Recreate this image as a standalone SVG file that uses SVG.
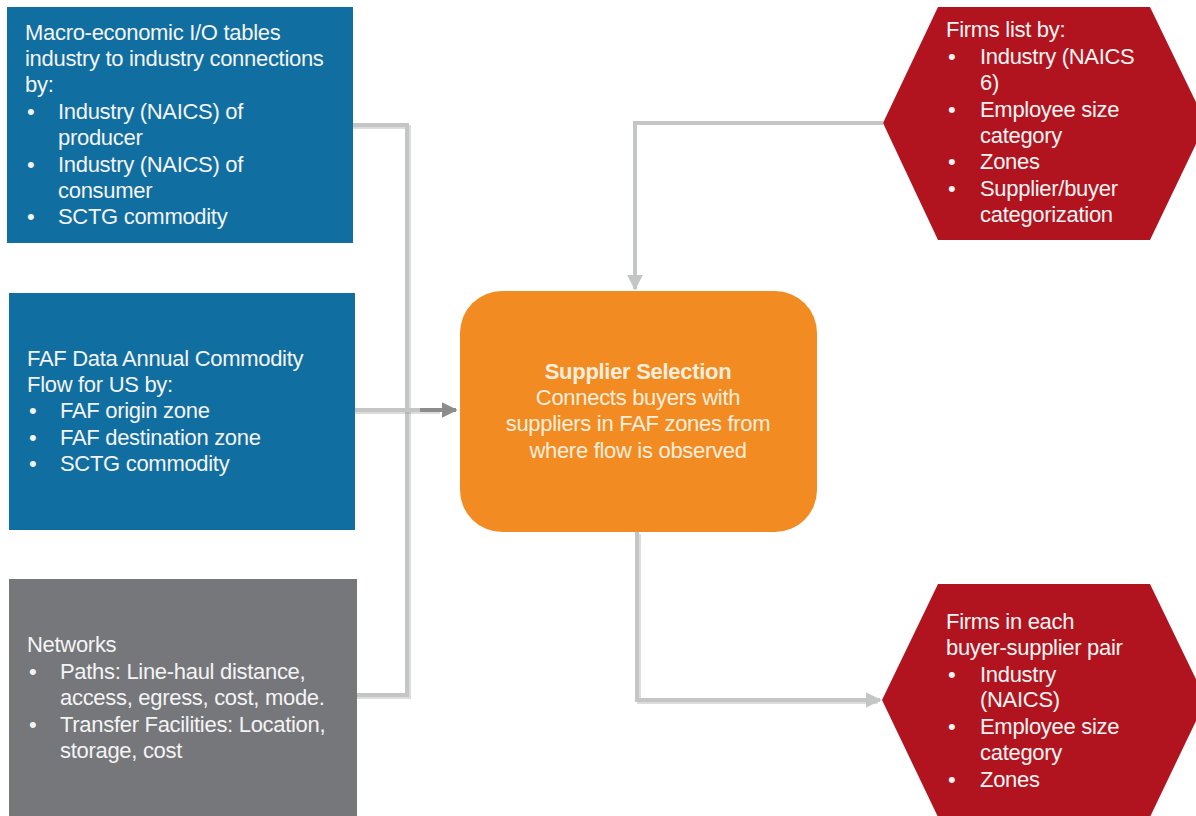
<svg xmlns="http://www.w3.org/2000/svg" width="1196" height="816" viewBox="0 0 1196 816">
<defs>
<style>
.t{font-family:"Liberation Sans",Arial,sans-serif;font-size:22px;fill:#f4f4f4;letter-spacing:-0.3px}
.c{font-family:"Liberation Sans",Arial,sans-serif;font-size:22px;fill:#fbeedd;text-anchor:middle;letter-spacing:-0.3px}
.b{font-weight:bold}
.ln{fill:none;stroke:#c4c6c6;stroke-width:4}
.sh{fill:none;stroke:#9a9a9a;stroke-width:4;opacity:0.35}
</style>
<marker id="ah" viewBox="0 0 10 10" refX="9" refY="5" markerWidth="4" markerHeight="4" orient="auto" markerUnits="strokeWidth">
<path d="M0,0 L10,5 L0,10 z" fill="#c4c6c6"/>
</marker>
<marker id="ahd" viewBox="0 0 10 10" refX="9" refY="5" markerWidth="4" markerHeight="4" orient="auto" markerUnits="strokeWidth">
<path d="M0,0 L10,5 L0,10 z" fill="#8c8c8c"/>
</marker>
</defs>
<rect width="1196" height="816" fill="#ffffff"/>
<g id="connectors">
<path class="sh" d="M353,127 H409 V697 H357"/>
<path class="ln" d="M353,125 H407 V695 H357"/>
<path class="sh" d="M355,412 H440"/>
<path class="ln" d="M355,410 H420"/>
<path d="M420,410 H456" fill="none" stroke="#8c8c8c" stroke-width="4" marker-end="url(#ahd)"/>
<path class="ln" d="M883,123 H635 V289" marker-end="url(#ah)"/>
<path class="sh" d="M639,534 V702 H878"/>
<path class="ln" d="M637,532 V700 H880" marker-end="url(#ah)"/>
</g>
<g id="io-tables">
<rect x="7" y="7" width="346" height="236" fill="#106ea1"/>
<text class="t" x="25" y="40">Macro-economic I/O tables</text>
<text class="t" x="25" y="66">industry to industry connections</text>
<text class="t" x="25" y="92">by:</text>
<text class="t" x="27" y="119">•</text><text class="t" x="58" y="119">Industry (NAICS) of</text>
<text class="t" x="58" y="145">producer</text>
<text class="t" x="27" y="172">•</text><text class="t" x="58" y="172">Industry (NAICS) of</text>
<text class="t" x="58" y="198">consumer</text>
<text class="t" x="27" y="224">•</text><text class="t" x="58" y="224">SCTG commodity</text>
</g>
<g id="faf-data">
<rect x="9" y="293" width="346" height="237" fill="#106ea1"/>
<text class="t" x="27" y="366">FAF Data Annual Commodity</text>
<text class="t" x="27" y="392">Flow for US by:</text>
<text class="t" x="29" y="418">•</text><text class="t" x="60" y="418">FAF origin zone</text>
<text class="t" x="29" y="445">•</text><text class="t" x="60" y="445">FAF destination zone</text>
<text class="t" x="29" y="471">•</text><text class="t" x="60" y="471">SCTG commodity</text>
</g>
<g id="networks">
<rect x="9" y="579" width="348" height="240" fill="#76777b"/>
<text class="t" x="27" y="652">Networks</text>
<text class="t" x="29" y="679">•</text><text class="t" x="60" y="679">Paths: Line-haul distance,</text>
<text class="t" x="60" y="705">access, egress, cost, mode.</text>
<text class="t" x="29" y="732">•</text><text class="t" x="60" y="732">Transfer Facilities: Location,</text>
<text class="t" x="60" y="758">storage, cost</text>
</g>
<g id="supplier-selection">
<rect x="460" y="291" width="357" height="241" rx="42" fill="#f28b22"/>
<text class="c b" x="638" y="379">Supplier Selection</text>
<text class="c" x="638" y="405">Connects buyers with</text>
<text class="c" x="638" y="431">suppliers in FAF zones from</text>
<text class="c" x="638" y="458">where flow is observed</text>
</g>
<g id="firms-list">
<polygon points="938,7 1150,7 1206,123 1150,240 938,240 883,123" fill="#b2141f"/>
<text class="t" x="946" y="37">Firms list by:</text>
<text class="t" x="948" y="64">•</text><text class="t" x="980" y="64">Industry (NAICS</text>
<text class="t" x="980" y="90">6)</text>
<text class="t" x="948" y="117">•</text><text class="t" x="980" y="117">Employee size</text>
<text class="t" x="980" y="143">category</text>
<text class="t" x="948" y="169">•</text><text class="t" x="980" y="169">Zones</text>
<text class="t" x="948" y="196">•</text><text class="t" x="980" y="196">Supplier/buyer</text>
<text class="t" x="980" y="222">categorization</text>
</g>
<g id="firms-pairs">
<polygon points="938,584 1150,584 1206,700 1150,817 938,817 882,700" fill="#b2141f"/>
<text class="t" x="946" y="629">Firms in each</text>
<text class="t" x="946" y="655">buyer-supplier pair</text>
<text class="t" x="948" y="682">•</text><text class="t" x="980" y="682">Industry</text>
<text class="t" x="980" y="707">(NAICS)</text>
<text class="t" x="948" y="734">•</text><text class="t" x="980" y="734">Employee size</text>
<text class="t" x="980" y="760">category</text>
<text class="t" x="948" y="787">•</text><text class="t" x="980" y="787">Zones</text>
</g>
</svg>
